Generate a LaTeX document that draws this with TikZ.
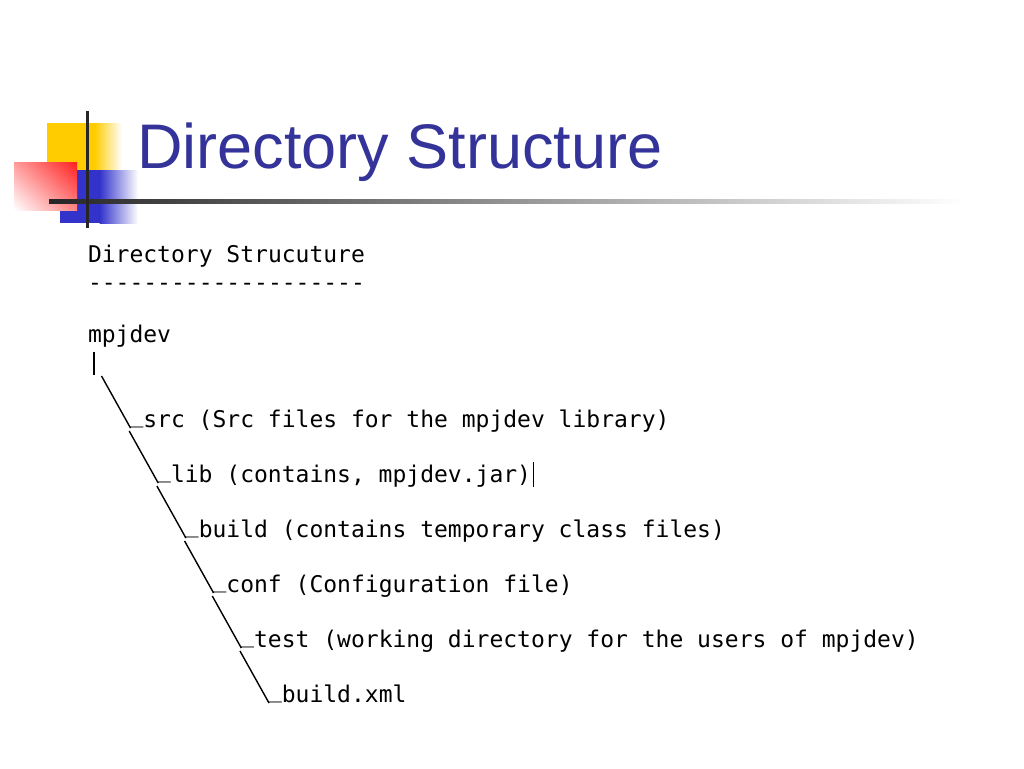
\documentclass[tikz,border=0pt]{standalone}
\usepackage{fontspec}
\setmainfont{Liberation Sans}
\newfontfamily\codefont{DejaVu Sans Mono}
\usetikzlibrary{shadings}
\definecolor{titleblue}{HTML}{333399}
\definecolor{decoyellow}{HTML}{FFCC00}
\definecolor{decoblue}{HTML}{3333CC}
\definecolor{decored}{HTML}{FF2020}
\newcommand{\treeitem}[4]{% level, name, text
  \pgfmathsetmacro{\xx}{129.5+27.7*#1}
  \pgfmathsetmacro{\yy}{427+55*#1}
  \node[codeline] (#2) at (\xx,\yy) {\raisebox{4.5pt}{\_}#3};
  \coordinate (#2 top) at (\xx-28,\yy-51);
  \coordinate (#2 end) at (\xx+1,\yy+1);
  \draw[treeline] (#2 top) -- (#2 end);
}
\begin{document}
\begin{tikzpicture}[x=1pt,y=-1pt,
  codeline/.style={anchor=base west,inner sep=0pt,outer sep=0pt,font=\codefont\fontsize{23}{23}\selectfont,text=black},
  treeline/.style={draw=black,line width=1.4pt}]
\useasboundingbox[fill=white] (0,0) rectangle (1024,768);
% decoration squares
\fill[decoyellow] (47,123) rectangle (95,171);
\shade[left color=decoyellow,right color=white] (94.5,123) rectangle (122,171);
\fill[decoblue] (60,170) rectangle (100,223);
\shade[left color=decoblue,right color=white] (99.5,170) rectangle (138,223);
\shade[upper left=decored!45!white,upper right=decored,lower left=white,lower right=decored!55!white] (14,162) rectangle (77,210);
% rules
\shade[left color=black!85,right color=white] (49,199) rectangle (965,203);
\fill[black!85] (85.5,111) rectangle (89,228);
% title
\node[anchor=base west,inner sep=0pt,text=titleblue,font=\fontsize{63}{63}\selectfont] (title) at (137,168) {Directory Structure};
% code text
\node[codeline] (head) at (88,262) {Directory Strucuture};
\node[codeline] (dashes) at (88,290) {--------------------};
\node[codeline] (root) at (88,342) {mpjdev};
\coordinate (bartop) at (94,352);
\coordinate (barbot) at (94,375);
\draw[treeline] (bartop) -- (barbot);
\treeitem{0}{src}{src (Src files for the mpjdev library)}{}
\treeitem{1}{lib}{lib (contains, mpjdev.jar)}{}
\treeitem{2}{bld}{build (contains temporary class files)}{}
\treeitem{3}{conf}{conf (Configuration file)}{}
\treeitem{4}{test}{test (working directory for the users of mpjdev)}{}
\treeitem{5}{xml}{build.xml}{}
\coordinate (caret top) at (533,462);
\coordinate (caret bot) at (533,487);
\draw[black,line width=1pt] (caret top) -- (caret bot);
\end{tikzpicture}
\end{document}
